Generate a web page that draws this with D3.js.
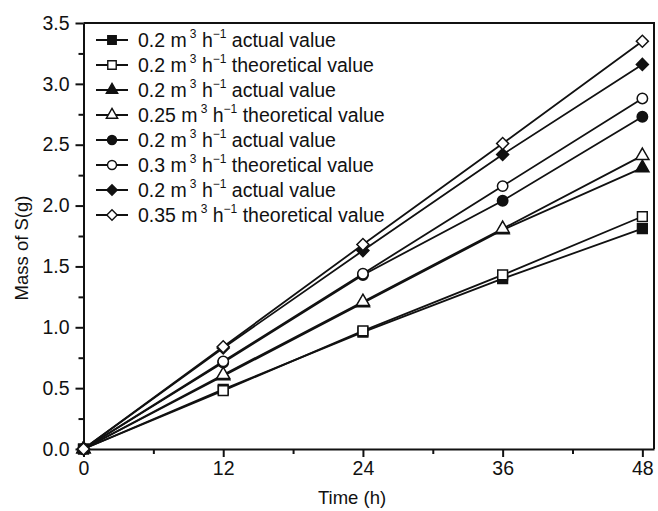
<!DOCTYPE html>
<html>
<head>
<meta charset="utf-8">
<script src="https://cdn.jsdelivr.net/npm/d3@7/dist/d3.min.js"></script>
<style>
  body { margin: 0; background: #fff; }
  svg { display: block; font-family: "Liberation Sans", Arial, sans-serif; }
</style>
</head>
<body>
<svg width="658" height="511"></svg>
<script>
// Mass of S vs time, actual vs theoretical values at several flow rates
const times = [0, 12, 24, 36, 48];
const xTicks = [0, 12, 24, 36, 48];
const yTicks = [0, 0.5, 1.0, 1.5, 2.0, 2.5, 3.0, 3.5];

const rates = ['0.2', '0.2', '0.2', '0.25', '0.2', '0.3', '0.2', '0.35'];
const kinds = ['actual value', 'theoretical value', 'actual value', 'theoretical value',
               'actual value', 'theoretical value', 'actual value', 'theoretical value'];
const shapes = ['square', 'square', 'triangle', 'triangle', 'circle', 'circle', 'diamond', 'diamond'];
const filled = [true, false, true, false, true, false, true, false];

const s1 = [0, 0.49, 0.96, 1.40, 1.81];
const s2 = [0, 0.48, 0.97, 1.43, 1.91];
const s3 = [0, 0.60, 1.20, 1.80, 2.31];
const s4 = [0, 0.61, 1.21, 1.81, 2.41];
const s5 = [0, 0.71, 1.43, 2.04, 2.73];
const s6 = [0, 0.72, 1.44, 2.16, 2.88];
const s7 = [0, 0.83, 1.63, 2.42, 3.16];
const s8 = [0, 0.84, 1.68, 2.51, 3.35];
const series = [s1, s2, s3, s4, s5, s6, s7, s8];

const svg = d3.select('svg');
const plotL = 83.5, plotR = 654, plotT = 23, plotB = 449;

const x = d3.scaleLinear().domain([0, 49]).range([plotL, plotR]);
const y = d3.scaleLinear().domain([0, 3.5]).range([plotB, plotT]);

// minor ticks
svg.append('g')
    .attr('transform', `translate(0,${plotB})`)
    .call(d3.axisBottom(x).tickValues([6, 18, 30, 42]).tickSize(5).tickFormat(''))
    .call(g => g.select('.domain').remove());
svg.append('g')
    .attr('transform', `translate(${plotL},0)`)
    .call(d3.axisLeft(y).tickValues(d3.range(0.25, 3.5, 0.5)).tickSize(5).tickFormat(''))
    .call(g => g.select('.domain').remove());

svg.append('g')
    .attr('transform', `translate(0,${plotB})`)
    .call(d3.axisBottom(x).tickValues(xTicks).tickSize(8).tickSizeOuter(0).tickPadding(4));
svg.append('g')
    .attr('transform', `translate(${plotL},0)`)
    .call(d3.axisLeft(y).tickValues(yTicks).tickSize(8).tickSizeOuter(0).tickPadding(6)
        .tickFormat(d3.format('.1f')));

svg.selectAll('.tick line').attr('stroke', '#111').attr('stroke-width', 2);
svg.selectAll('.domain').attr('stroke', '#111').attr('stroke-width', 2);
svg.selectAll('.tick text').attr('font-size', 19.5).attr('fill', '#111')
    .attr('font-family', '"Liberation Sans", Arial, sans-serif');

// frame top + right
svg.append('path')
    .attr('d', `M${plotL},${plotT}H${plotR}V${plotB}`)
    .attr('fill', 'none').attr('stroke', '#111').attr('stroke-width', 2);

svg.append('text')
    .attr('x', 352).attr('y', 504)
    .attr('text-anchor', 'middle').attr('font-size', 18.5).attr('fill', '#111')
    .text('Time (h)');
svg.append('text')
    .attr('transform', 'translate(28,248) rotate(-90)')
    .attr('text-anchor', 'middle').attr('font-size', 18.5).attr('fill', '#111')
    .text('Mass of S(g)');

function symbolPath(shape, k) {
  if (shape === 'square') return d3.symbol(d3.symbolSquare, 95 * k)();
  if (shape === 'triangle') return d3.symbol(d3.symbolTriangle, 75 * k)();
  if (shape === 'circle') return d3.symbol(d3.symbolCircle, 85 * k)();
  return d3.symbol(d3.symbolSquare, 72 * k)();
}

const line = d3.line().x((d, i) => x(times[i])).y(d => y(d));

series.forEach((vals, si) => {
  const g = svg.append('g');
  g.append('path')
      .attr('d', line(vals))
      .attr('fill', 'none').attr('stroke', '#111').attr('stroke-width', 1.8);
  g.selectAll('path.m')
      .data(vals)
      .enter()
      .append('path')
      .attr('class', 'm')
      .attr('d', symbolPath(shapes[si], 1))
      .attr('transform', (d, i) => `translate(${x(times[i])},${y(d)})` +
          (shapes[si] === 'diamond' ? ' rotate(45)' : ''))
      .attr('fill', filled[si] ? '#111' : '#fff')
      .attr('stroke', '#111').attr('stroke-width', 1.5);
});

// legend
const leg = svg.append('g');
rates.forEach((r, i) => {
  const ly = 40 + i * 25;
  leg.append('line')
      .attr('x1', 96).attr('x2', 128).attr('y1', ly).attr('y2', ly)
      .attr('stroke', '#111').attr('stroke-width', 2);
  leg.append('path')
      .attr('d', symbolPath(shapes[i], 0.75))
      .attr('transform', `translate(112,${ly})` + (shapes[i] === 'diamond' ? ' rotate(45)' : ''))
      .attr('fill', filled[i] ? '#111' : '#fff')
      .attr('stroke', '#111').attr('stroke-width', 1.4);
  const t = leg.append('text')
      .attr('x', 138).attr('y', ly + 7)
      .attr('font-size', 19.5).attr('fill', '#111');
  t.append('tspan').text(r + ' m');
  t.append('tspan').attr('dy', -9).attr('font-size', 12).attr('dx', 3).text('3');
  t.append('tspan').attr('dy', 9).text(' h');
  t.append('tspan').attr('dy', -9).attr('font-size', 12).text('\u22121');
  t.append('tspan').attr('dy', 9).text(' ' + kinds[i]);
});
</script>
</body>
</html>
